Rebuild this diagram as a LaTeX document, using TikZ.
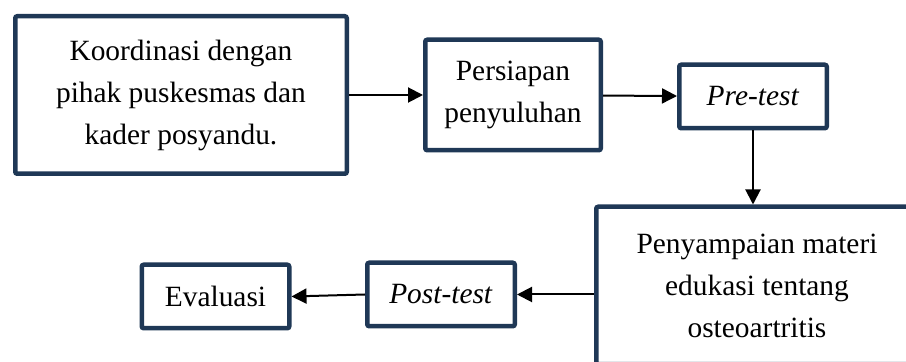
\documentclass[tikz,border=0pt]{standalone}
\usepackage{fontspec}
\setmainfont{Liberation Serif}
\usetikzlibrary{arrows.meta}
\definecolor{navy}{RGB}{31,56,86}

\begin{document}
\begin{tikzpicture}[
			main/.style = {draw=navy, line width=2.25pt, rounded corners=1pt, align=center, inner sep=0pt, font=\fontsize{14.7}{21}\selectfont},
			small/.style = {main, minimum width=73.75pt, minimum height=31.75pt},
			link/.style = {-{Triangle[length=7.5pt, width=7.5pt]}, line width=1pt}
		]
		\useasboundingbox (0,0) rectangle (453pt,-181pt);
		\clip (0,0) rectangle (453pt,-181pt);
		\node[main, minimum width=165.75pt, minimum height=78.75pt] (koord) at (90.5pt,-47.5pt) {Koordinasi dengan\\pihak puskesmas dan\\kader posyandu.};
		\node[main, minimum width=87.75pt, minimum height=55.25pt] (siap) [right of=koord, node distance=166pt] {Persiapan\\penyuluhan};
		\node[small] (pre) [right of=siap, node distance=120pt, yshift=-0.75pt] {\textit{Pre-test}};
		\node[main, minimum width=160.75pt, minimum height=78.75pt] (materi) [below of=pre, node distance=94.5pt, xshift=2pt] {Penyampaian materi\\edukasi tentang\\osteoartritis};
		\node[small] (post) [left of=materi, node distance=158pt, yshift=-4.5pt] {\textit{Post-test}};
		\node[small] (eval) [left of=post, node distance=112.75pt, yshift=-1pt] {Evaluasi};
		\draw[link] (koord) -- (siap);
		\draw[link] (siap) -- (pre);
		\draw[link] (pre.south) -- (pre.south |- materi.north);
		\draw[link] (post.east -| materi.west) -- (post.east);
		\draw[link] (post.west) -- (eval.east);
	\end{tikzpicture}
\end{document}
